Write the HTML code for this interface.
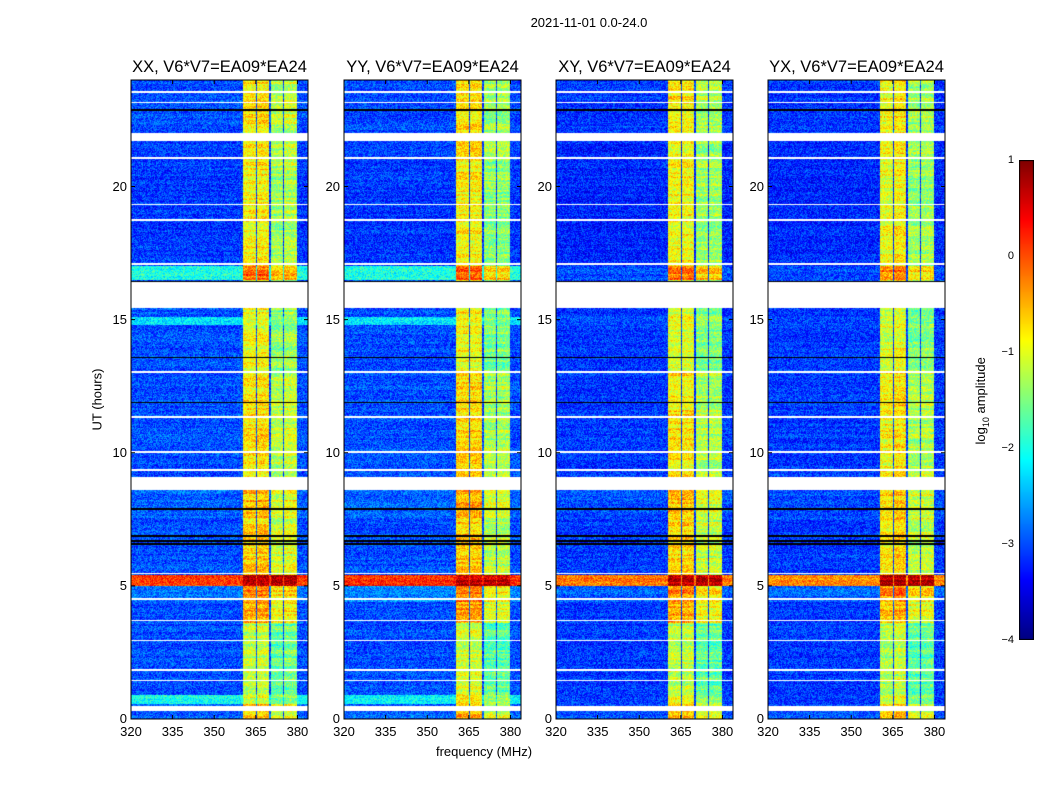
<!DOCTYPE html>
<html><head><meta charset="utf-8">
<style>
body{margin:0;background:#fff;font-family:"Liberation Sans",sans-serif;}
#wrap{position:relative;width:1050px;height:800px;overflow:hidden;background:#fff;}
.t{position:absolute;white-space:nowrap;color:#000;}
canvas{position:absolute;}
</style></head><body>
<div id="wrap">
<div class="t" style="left:0;width:1178px;top:15px;text-align:center;font-size:13px;">2021-11-01 0.0-24.0</div>
<div class="t" style="left:47px;top:392px;font-size:13px;transform:rotate(-90deg);width:100px;text-align:center;">UT (hours)</div>
<div class="t" style="left:384px;top:744px;width:200px;text-align:center;font-size:13px;">frequency (MHz)</div>
<div class="t" style="left:922px;top:392px;font-size:13px;transform:rotate(-90deg);width:120px;text-align:center;">log<sub style="font-size:9px">10</sub> amplitude</div>
</div>
<script>
// ---- data ----
const panelTitles=["XX, V6*V7=EA09*EA24","YY, V6*V7=EA09*EA24","XY, V6*V7=EA09*EA24","YX, V6*V7=EA09*EA24"];
const panelLeft=[131,344,556,768];
const xTicks=[320,335,350,365,380];
const yTicks=[0,5,10,15,20];
const cbTicks=[1,0,-1,-2,-3,-4];
const segStart=[0,0.55,0.9,3.6,4.4,5.0,5.4,7.5,9.1,13.0,14.8,15.1,16.5,17.0,21.9];
const segEnd  =[0.55,0.9,3.6,4.4,5.0,5.4,7.5,8.6,13.0,14.8,15.1,16.5,17.0,21.9,24];
const segOffXX=[-2.9,-2.0,-3.0,-3.0,-2.8,0.1,-3.0,-2.9,-3.0,-3.0,-2.2,-3.0,-2.0,-3.1,-3.0];
const segOffYY=[-2.9,-2.2,-3.0,-3.0,-2.7,0.2,-3.0,-2.9,-3.0,-3.0,-2.2,-3.0,-2.0,-3.1,-3.0];
const segOffXY=[-3.0,-3.1,-3.1,-3.1,-2.9,-0.2,-3.1,-3.0,-3.1,-3.1,-3.0,-3.1,-3.0,-3.2,-3.1];
const segOffYX=[-3.0,-3.1,-3.1,-3.1,-2.9,-0.3,-3.1,-3.0,-3.1,-3.1,-3.0,-3.1,-3.0,-3.2,-3.1];
const segBand =[-0.6,-1.0,-1.2,-0.5,-0.3,0.75,-0.7,-0.6,-0.8,-1.0,-0.9,-1.0,-0.2,-0.9,-0.8];
const bandStart=[360.5,365.3,370.3,375.3];
const bandEnd  =[364.9,369.9,374.9,379.8];
const bandOffXX=[0,0.05,-0.45,-0.35];
const bandOffYY=[0.1,0.1,-0.5,-0.5];
const bandOffXY=[0,0,-0.45,-0.45];
const bandOffYX=[-0.1,0.05,-0.5,-0.45];
const whiteStart=[0.3,1.42,1.82,2.92,3.67,4.47,5.45,8.6,9.32,10.0,11.32,13.0,15.45,17.07,18.72,19.3,21.02,21.7,23.12,23.52];
const whiteEnd  =[0.5,1.48,1.88,2.98,3.73,4.53,5.5,9.1,9.38,10.05,11.38,13.06,16.4,17.13,18.78,19.35,21.1,22.0,23.18,23.58];
const blackLine=[6.6,6.7,6.9,11.9,13.6,16.45,21.95,22.9,7.9];
// ---- axes ----
const X0=320,X1=383.8,Y0=0,Y1=24,PW=177,PT=80,PH=639;
function jet(v){v=Math.max(0,Math.min(1,v));
 const r=Math.max(0,Math.min(1,1.5-Math.abs(4*v-3))),g=Math.max(0,Math.min(1,1.5-Math.abs(4*v-2))),b=Math.max(0,Math.min(1,1.5-Math.abs(4*v-1)));
 return [r*255|0,g*255|0,b*255|0];}
function hash(a,b,c){let h=(a*374761393+b*668265263+c*2147483647)|0;h=(h^(h>>>13))*1274126177;h=h^(h>>>16);return ((h>>>0)%10000)/10000;}
const wrap=document.getElementById('wrap');
const offs=[segOffXX,segOffYY,segOffXY,segOffYX],boffs=[bandOffXX,bandOffYY,bandOffXY,bandOffYX];
function fx(f){return (f-X0)/(X1-X0)*PW;}
function fy(t){return PH-(t-Y0)/(Y1-Y0)*PH;}
panelTitles.forEach((title,p)=>{
 const L=panelLeft[p];
 const c=document.createElement('canvas');c.width=PW;c.height=PH;
 c.style.left=L+'px';c.style.top=PT+'px';
 
 
 wrap.appendChild(c);
 const ctx=c.getContext('2d');const img=ctx.createImageData(PW,PH);
 for(let y=0;y<PH;y++){
  const t=Y1-(y+0.5)/PH*(Y1-Y0);
  let s=0;for(let i=0;i<segStart.length;i++){if(t>=segStart[i]&&t<segEnd[i]){s=i;break;}}
  let white=false;for(let i=0;i<whiteStart.length;i++){if(t>=whiteStart[i]&&t<whiteEnd[i])white=true;}
  let black=false;for(let i=0;i<blackLine.length;i++){if(Math.abs(fy(blackLine[i])-y)<0.8)black=true;}
  const rowN=(hash(y>>1,p,7)-0.5)*0.5;
  for(let x=0;x<PW;x++){
   const f=X0+(x+0.5)/PW*(X1-X0);
   let v=offs[p][s];let inb=-1;
   for(let b=0;b<bandStart.length;b++){if(f>=bandStart[b]&&f<bandEnd[b])inb=b;}
   if(inb>=0) v=Math.max(v,segBand[s]+boffs[p][inb]);
   if(inb>=0 && segBand[s]>0) v=segBand[s];
   v+=(hash(x,y,p)-0.5)*0.8+rowN*(inb>=0?1:0.4);
   let col=jet((v+4)/5);
   if(white) col=[255,255,255]; else if(black) col=[0,0,0];
   const k=(y*PW+x)*4;img.data[k]=col[0];img.data[k+1]=col[1];img.data[k+2]=col[2];img.data[k+3]=255;
  }
 }
 ctx.putImageData(img,0,0);
 const ns='http://www.w3.org/2000/svg';
 const sv=document.createElementNS(ns,'svg');sv.setAttribute('width',PW+2);sv.setAttribute('height',PH+2);
 sv.style.position='absolute';sv.style.left=(L-1)+'px';sv.style.top=(PT-1)+'px';
 
 
 let h='<rect x="1" y="1" width="'+PW+'" height="'+PH+'" fill="none" stroke="#000" stroke-width="1"/>';
 xTicks.forEach(v=>{const x=1+fx(v);h+='<line x1="'+x+'" x2="'+x+'" y1="'+(PH+1)+'" y2="'+(PH-3)+'" stroke="#000"/><line x1="'+x+'" x2="'+x+'" y1="1" y2="5" stroke="#000"/>';});
 yTicks.forEach(v=>{const y=1+fy(v);h+='<line x1="1" x2="5" y1="'+y+'" y2="'+y+'" stroke="#000"/><line x1="'+(PW+1)+'" x2="'+(PW-3)+'" y1="'+y+'" y2="'+y+'" stroke="#000"/>';});
 sv.innerHTML=h;wrap.appendChild(sv);
 const tt=document.createElement('div');tt.className='t';
 
 
 tt.style.left=(L-10)+'px';tt.style.width=(PW+20)+'px';tt.style.textAlign='center';tt.style.top='58px';tt.style.fontSize='16.5px';
 tt.textContent=title;wrap.appendChild(tt);
 xTicks.forEach(v=>{const d=document.createElement('div');d.className='t';
  
  
  d.style.left=(L+fx(v)-20)+'px';d.style.width='40px';d.style.textAlign='center';d.style.top='724px';d.style.fontSize='13px';d.textContent=v;wrap.appendChild(d);});
 yTicks.forEach(v=>{const d=document.createElement('div');d.className='t';
  
  
  d.style.left=(L-44)+'px';d.style.width='40px';d.style.textAlign='right';d.style.top=(PT+fy(v)-8)+'px';d.style.fontSize='13px';d.textContent=v;wrap.appendChild(d);});
});
// colorbar
const cb=document.createElement('canvas');cb.width=15;cb.height=480;cb.style.left='1019px';cb.style.top='160px';


wrap.appendChild(cb);
const cc=cb.getContext('2d');
for(let y=0;y<480;y++){const c=jet(1-(y+0.5)/480);cc.fillStyle='rgb('+c+')';cc.fillRect(0,y,15,1);}
cc.strokeStyle='#000';cc.strokeRect(0.5,0.5,14,479);
cbTicks.forEach(v=>{const y=160+(1-v)/5*480;const d=document.createElement('div');d.className='t';
 
 
 d.style.left='994px';d.style.width='20px';d.style.textAlign='right';d.style.top=(y-6)+'px';d.style.fontSize='11px';d.textContent=(v<0?'\u2212'+(-v):v);wrap.appendChild(d);});
</script>
</body></html>
